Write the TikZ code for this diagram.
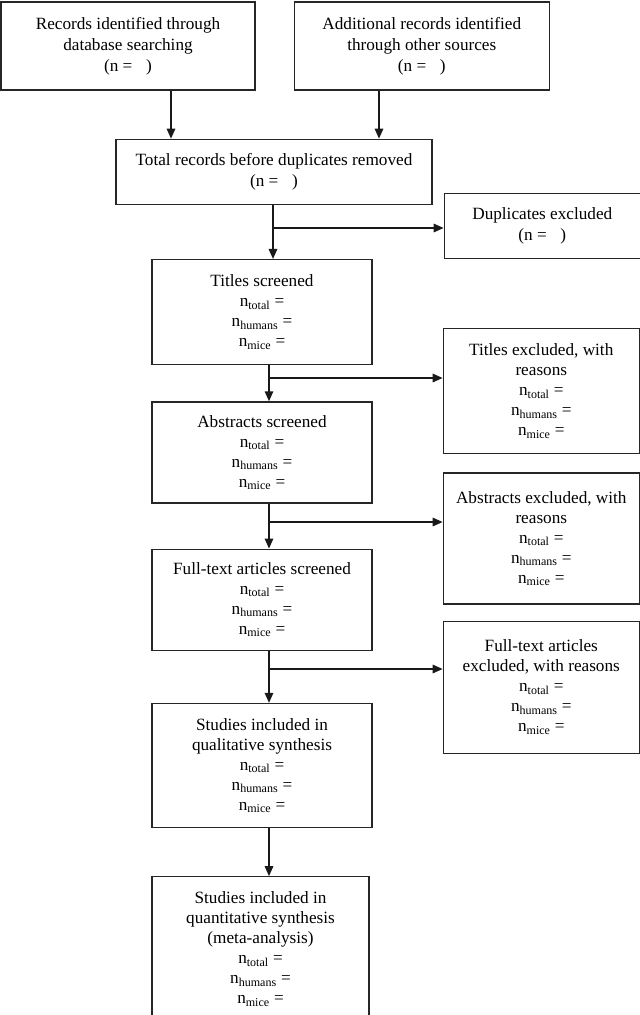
\documentclass[tikz,border=0pt]{standalone}
\usepackage{fontspec}
\setmainfont{Liberation Serif}
\usepackage{tikz}
\usetikzlibrary{positioning,calc,arrows.meta}
\tikzstyle{record} = [rectangle, draw=black!85, line width=1.3pt, align=center, inner sep=2pt,
  font=\fontsize{17.2}{20}\selectfont, fill=white]
\tikzstyle{source} = [record, font=\fontsize{17.2}{21}\selectfont]
\tikzstyle{arrow} = [line width=1.5pt, draw=black!90, -{Triangle[length=10pt,width=8.5pt]}]
\tikzstyle{branch} = [line width=1.5pt, draw=black!90, -{Triangle[length=10pt,width=8.5pt]}]
\newcommand{\ncounts}{n\textsubscript{total} =\\ n\textsubscript{humans} =\\ n\textsubscript{mice} =}
\newcommand{\nblank}{(n = \hspace{0.55em})}

\begin{document}
\begin{tikzpicture}[x=1pt,y=-1pt]
        \useasboundingbox (0,0) rectangle (640,1015);
        % Identification ---------------------------------------------------------------------------
        \node[source, minimum width=254pt, minimum height=88pt](records_db) at (128,46)
            {Records identified through\\database searching\\\nblank};
        \node[source, minimum width=255pt, minimum height=88pt, right=38pt of records_db](records_other)
            {Additional records identified\\through other sources\\\nblank};
        \node[source, minimum width=316pt, minimum height=65pt, below=48pt of records_db, xshift=146pt](records_total)
            {Total records before duplicates removed\\\nblank};
        \node[source, minimum width=196pt, minimum height=65pt, right=11pt of records_total, yshift=-54pt](duplicates)
            {Duplicates excluded\\\nblank};
        % Screening --------------------------------------------------------------------------------
        \node[record, minimum width=220pt, minimum height=105pt, below=54pt of records_total, xshift=-12pt](titles)
            {Titles screened\\\ncounts};
        \node[record, minimum width=196pt, minimum height=125pt, right=70pt of titles, yshift=-79pt](titles_out)
            {Titles excluded, with\\reasons\\\ncounts};
        \node[record, minimum width=220pt, minimum height=101pt, below=36pt of titles](abstracts)
            {Abstracts screened\\\ncounts};
        \node[record, minimum width=196pt, minimum height=131pt, right=70pt of abstracts, yshift=-86pt](abstracts_out)
            {Abstracts excluded, with\\reasons\\\ncounts};
        % Eligibility ------------------------------------------------------------------------------
        \node[record, minimum width=220pt, minimum height=101pt, below=45pt of abstracts](fulltext)
            {Full-text articles screened\\\ncounts};
        \node[record, minimum width=196pt, minimum height=132pt, right=70pt of fulltext, yshift=-87.5pt](fulltext_out)
            {Full-text articles\\excluded, with reasons\\\ncounts};
        % Included ---------------------------------------------------------------------------------
        \node[record, minimum width=220pt, minimum height=124pt, below=52pt of fulltext](qualitative)
            {Studies included in\\qualitative synthesis\\\ncounts};
        \node[record, minimum width=217pt, minimum height=144pt, below=48pt of qualitative, xshift=-1.5pt](quantitative)
            {Studies included in\\quantitative synthesis\\(meta-analysis)\\\ncounts};
        % Split points
        \coordinate (in_db) at (171,0);
        \coordinate (in_other) at (379,0);
        \coordinate (split_records) at (273,228);
        \coordinate (split_titles) at (269,378);
        \coordinate (split_abstracts) at (269,522);
        \coordinate (split_fulltext) at (269,669);
        % Arrows -----------------------------------------------------------------------------------
        \draw[arrow] (records_db.south -| in_db) -- (records_total.north -| in_db);
        \draw[arrow] (records_other.south -| in_other) -- (records_total.north -| in_other);
        \draw[arrow] (records_total.south -| split_records) -- (titles.north -| split_records);
        \draw[branch] (split_records) -- (split_records -| duplicates.west);
        \draw[arrow] (titles.south -| split_titles) -- (abstracts.north -| split_titles);
        \draw[branch] (split_titles) -- (split_titles -| titles_out.west);
        \draw[arrow] (abstracts.south -| split_abstracts) -- (fulltext.north -| split_abstracts);
        \draw[branch] (split_abstracts) -- (split_abstracts -| abstracts_out.west);
        \draw[arrow] (fulltext.south -| split_fulltext) -- (qualitative.north -| split_fulltext);
        \draw[branch] (split_fulltext) -- (split_fulltext -| fulltext_out.west);
        \draw[arrow] (qualitative.south -| split_fulltext) -- (quantitative.north -| split_fulltext);
    \end{tikzpicture}
\end{document}
